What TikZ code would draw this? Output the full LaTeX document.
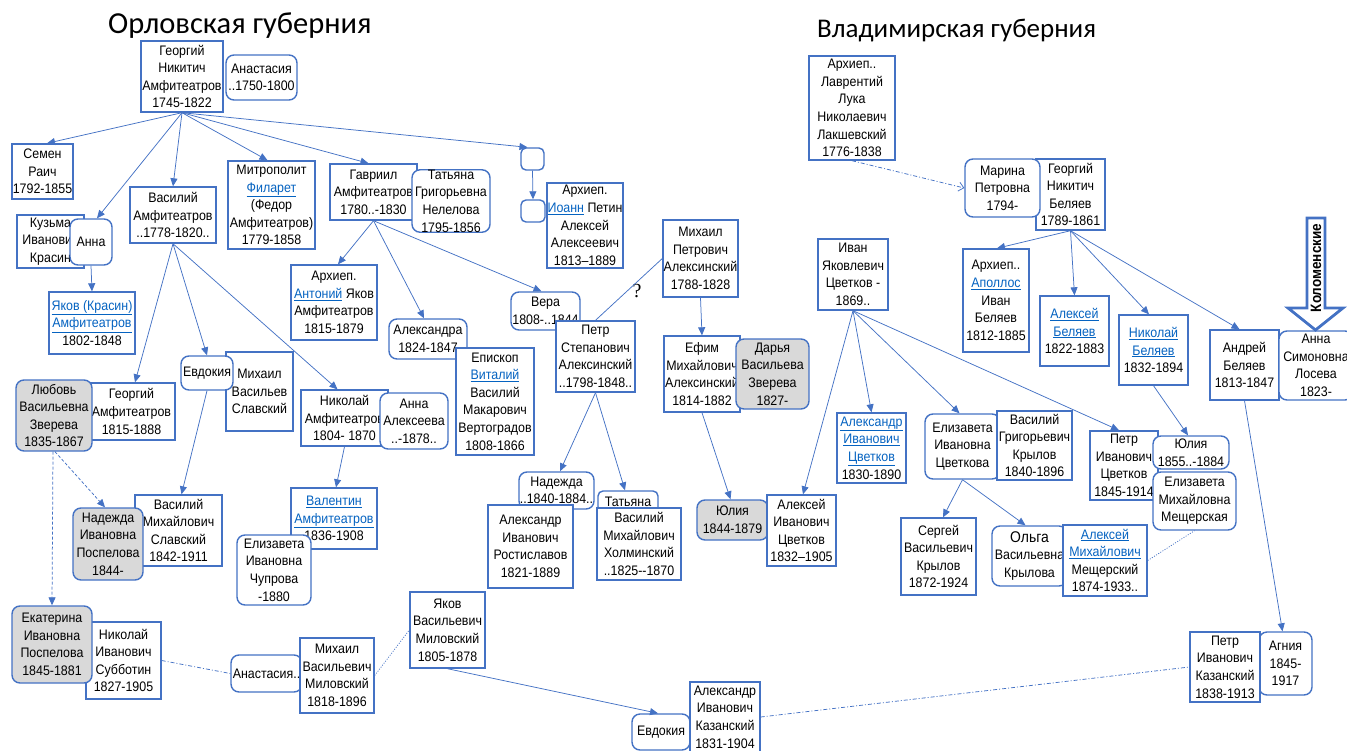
\documentclass[tikz,border=0pt]{standalone}
\usepackage{fontspec}
\setmainfont{Liberation Sans}[FakeStretch=0.9]
\newfontfamily\titlefont{Carlito}
\newfontfamily\qfont{Liberation Serif}
\usetikzlibrary{arrows.meta}
\definecolor{bblue}{RGB}{68,114,196}
\definecolor{lblue}{RGB}{5,99,193}
\definecolor{gfill}{RGB}{217,217,217}
\newcommand\lnk[1]{\textcolor{lblue}{\underline{#1}}}
\newcommand\famnode[7]{\node[#6,minimum width={#4-#2},minimum height={#5-#3}] (#1) at ({(#2+#4)/2},{(#3+#5)/2}) {#7};}
\tikzset{
 pb/.style={draw=bblue,line width=1.4pt,fill=white,inner sep=0pt,align=center,font=\fontsize{13.8}{17.6}\selectfont},
 rb/.style={pb,rounded corners=8pt},
 gb/.style={rb,fill=gfill},
 eb/.style={pb,rounded corners=5pt},
 conn/.style={draw=bblue,line width=0.75pt},
 arr/.style={conn,-{Triangle[length=8pt,width=7pt]}},
 dashline/.style={conn,dash pattern=on 3pt off 2pt},
 ddline/.style={conn,dash pattern=on 4pt off 2pt on 1pt off 2pt},
 dotline/.style={conn,dash pattern=on 1pt off 1.5pt},
}
\begin{document}
\begin{tikzpicture}[x=1pt,y=-1pt]
\useasboundingbox (0,0) rectangle (1347,750);
% titles
\node[font=\titlefont\fontsize{30.5}{32}\selectfont,anchor=base west,inner sep=0pt] (t1) at (108,33) {Орловская губерния};
\node[font=\titlefont\fontsize{27}{30}\selectfont,anchor=base west,inner sep=0pt] (t2) at (817,37) {Владимирская губерния};
% Orel nodes
\famnode{gna}{141}{41}{223}{112}{pb}{Георгий\\Никитич\\Амфитеатров\\1745-1822}
\famnode{anast1}{226}{55}{297}{100}{rb}{Анастасия\\..1750-1800}
\famnode{semen}{12}{144}{73}{199}{pb}{Семен\\Раич\\1792-1855}
\famnode{kuzma}{17}{215}{84}{268}{pb}{Кузьма\\Иванович\\Красин}
\famnode{anna1}{70}{219}{112}{265}{rb}{Анна}
\famnode{yakov}{49}{292}{135}{354}{pb}{\lnk{Яков (Красин)}\\\lnk{Амфитеатров}\\1802-1848}
\famnode{vasA}{130}{187}{216}{243}{pb}{Василий\\Амфитеатров\\..1778-1820..}
\famnode{filaret}{228}{161}{315}{249}{pb}{Митрополит\\\lnk{Филарет}\\(Федор\\Амфитеатров)\\1779-1858}
\famnode{gavr}{330}{164}{417}{220}{pb}{Гавриил\\Амфитеатров\\1780..-1830}
\famnode{tatN}{412}{170}{490}{232}{rb}{Татьяна\\Григорьевна\\Нелелова\\1795-1856}
\famnode{e1}{521}{148}{544}{170}{eb}{}
\famnode{e2}{521}{200}{545}{222}{eb}{}
\famnode{ioann}{547}{183}{623}{268}{pb}{Архиеп.\\\lnk{Иоанн} Петин\\Алексей\\Алексеевич\\1813–1889}
\famnode{mihP}{663}{220}{738}{297}{pb}{Михаил\\Петрович\\Алексинский\\1788-1828}
\famnode{vera}{511}{292}{580}{330}{rb}{Вера\\1808-..1844}
\famnode{petrS}{556}{321}{635}{392}{pb}{Петр\\Степанович\\Алексинский\\..1798-1848..}
\famnode{antoniy}{291}{265}{377}{340}{pb}{Архиеп.\\\lnk{Антоний} Яков\\Амфитеатров\\1815-1879}
\famnode{alexandra}{389}{319}{467}{359}{rb}{Александра\\1824-1847}
\famnode{vitaliy}{456}{348}{534}{455}{pb}{Епископ\\\lnk{Виталий}\\Василий\\Макарович\\Вертоградов\\1808-1866}
\famnode{mihS}{226}{352}{293}{431}{pb}{Михаил\\Васильев\\Славский}
\famnode{evd1}{181}{356}{233}{390}{rb}{Евдокия}
\famnode{georgA}{88}{383}{175}{440}{pb}{Георгий\\Амфитеатров\\1815-1888}
\famnode{lyub}{16}{380}{92}{451}{gb}{Любовь\\Васильевна\\Зверева\\1835-1867}
\famnode{nikA}{301}{390}{388}{446}{pb}{Николай\\Амфитеатров\\1804- 1870}
\famnode{annaA}{380}{393}{448}{449}{rb}{Анна\\Алексеева\\..-1878..}
\famnode{valentin}{291}{488}{377}{549}{pb}{\lnk{Валентин}\\\lnk{Амфитеатров}\\1836-1908}
\famnode{chuprova}{237}{535}{311}{605}{rb}{Елизавета\\Ивановна\\Чупрова\\-1880}
\famnode{vasSl}{135}{495}{222}{566}{pb}{Василий\\Михайлович\\Славский\\1842-1911}
\famnode{nadP}{73}{508}{143}{580}{gb}{Надежда\\Ивановна\\Поспелова\\1844-}
\famnode{subbotin}{86}{622}{161}{699}{pb}{Николай\\Иванович\\Субботин\\1827-1905}
\famnode{ekat}{12}{606}{92}{683}{gb}{Екатерина\\Ивановна\\Поспелова\\1845-1881}
\famnode{anast2}{231}{655}{302}{692}{rb}{Анастасия..}
\famnode{mihM}{300}{638}{374}{713}{pb}{Михаил\\Васильевич\\Миловский\\1818-1896}
\famnode{yakM}{410}{592}{485}{668}{pb}{Яков\\Васильевич\\Миловский\\1805-1878}
\famnode{nadezhda}{519}{472}{594}{509}{rb}{Надежда\\..1840-1884..}
\famnode{tatyana}{598}{491}{658}{512}{eb}{Татьяна}
\famnode{holm}{597}{508}{681}{580}{pb}{Василий\\Михайлович\\Холминский\\..1825-{}-1870}
\famnode{rost}{488}{505}{573}{588}{pb}{Александр\\Иванович\\Ростиславов\\1821-1889}
\famnode{evd2}{632}{714}{690}{750}{rb}{Евдокия}
\famnode{kazA}{690}{682}{760}{752}{pb}{Александр\\Иванович\\Казанский\\1831-1904}
\famnode{efim}{664}{336}{740}{412}{pb}{Ефим\\Михайлович\\Алексинский\\1814-1882}
\famnode{darya}{736}{339}{809}{409}{gb}{Дарья\\Васильева\\Зверева\\1827-}
\famnode{yulia1}{697}{500}{768}{540}{gb}{Юлия\\1844-1879}
\famnode{alexC}{767}{495}{836}{566}{pb}{Алексей\\Иванович\\Цветков\\1832–1905}
% Vladimir nodes
\famnode{ivanC}{818}{239}{888}{310}{pb}{Иван\\Яковлевич\\Цветков -\\1869..}
\famnode{alexanC}{837}{413}{906}{483}{pb}{\lnk{Александр}\\\lnk{Иванович}\\\lnk{Цветков}\\1830-1890}
\famnode{elizC}{925}{414}{1000}{479}{rb}{Елизавета\\Ивановна\\Цветкова}
\famnode{vasK}{997}{411}{1072}{480}{pb}{Василий\\Григорьевич\\Крылов\\1840-1896}
\famnode{lavr}{809}{56}{895}{160}{pb}{Архиеп..\\Лаврентий\\Лука\\Николаевич\\Лакшевский\\1776-1838}
\famnode{georgB}{1036}{159}{1105}{230}{pb}{Георгий\\Никитич\\Беляев\\1789-1861}
\famnode{marina}{965}{159}{1040}{217}{rb}{Марина\\Петровна\\1794-}
\famnode{apollos}{963}{249}{1029}{352}{pb}{Архиеп..\\\lnk{Аполлос}\\Иван\\Беляев\\1812-1885}
\famnode{alexB}{1040}{296}{1109}{366}{pb}{\lnk{Алексей}\\\lnk{Беляев}\\1822-1883}
\famnode{nikB}{1119}{315}{1188}{385}{pb}{\lnk{Николай}\\\lnk{Беляев}\\1832-1894}
\famnode{andrey}{1210}{330}{1279}{400}{pb}{Андрей\\Беляев\\1813-1847}
\famnode{annaL}{1279}{331}{1353}{400}{rb}{Анна\\Симоновна\\Лосева\\1823-}
\famnode{petrC}{1090}{431}{1158}{500}{pb}{Петр\\Иванович\\Цветков\\1845-1914}
\famnode{yulia2}{1153}{436}{1229}{469}{rb}{Юлия\\1855..-1884}
\famnode{elizM}{1153}{472}{1236}{530}{rb}{Елизавета\\Михайловна\\Мещерская}
\famnode{olga}{992}{526}{1067}{586}{rb}{{\fontsize{15.5}{17.6}\selectfont Ольга}\\Васильевна\\Крылова}
\famnode{mesch}{1063}{525}{1147}{596}{pb}{\lnk{Алексей}\\\lnk{Михайлович}\\Мещерский\\1874-1933..}
\famnode{sergey}{901}{518}{976}{595}{pb}{Сергей\\Васильевич\\Крылов\\1872-1924}
\famnode{agniya}{1259}{632}{1312}{695}{rb}{Агния\\1845-\\1917}
\famnode{kazP}{1190}{632}{1260}{702}{pb}{Петр\\Иванович\\Казанский\\1838-1913}
% Kolomenskie block arrow
\draw[draw=bblue,line width=2.8pt,fill=white,line join=miter] (1307,218) -- (1325,218) -- (1325,308) -- (1343,308) -- (1315.5,330) -- (1288,308) -- (1307,308) -- cycle;
\node[rotate=90,inner sep=0pt,font=\bfseries\fontsize{15}{15}\selectfont] (kol) at (1316,268) {Коломенские};
% question mark
\node[inner sep=0pt,font=\qfont\fontsize{20}{20}\selectfont] (q) at (637,291) {?};
% connectors
\draw[arr] (gna.south) -- ([xshift=4.5]semen.north);
\draw[arr] (gna.south) -- ([xshift=6]anna1.north);
\draw[arr] (gna.south) -- (vasA.north);
\draw[arr] (gna.south) -- ([xshift=-4]filaret.north);
\draw[arr] (gna.south) -- ([xshift=-5]gavr.north);
\draw[arr] (gna.south) -- ([xshift=-5]e1.north);
\draw[arr] (e1.south) -- (e2.north);
\draw[arr] (anna1.south) -- (yakov.north);
\draw[arr] (vasA.south) -- ([xshift=3.5]georgA.north);
\draw[arr] (vasA.south) -- (evd1.north);
\draw[arr] (vasA.south) -- ([xshift=-7]nikA.north);
\draw[arr] (gavr.south) -- ([xshift=4]antoniy.north);
\draw[arr] (gavr.south) -- ([xshift=-4]alexandra.north);
\draw[arr] (gavr.south) -- ([xshift=-4]vera.north);
\draw[arr] (evd1.south) -- ([xshift=3]vasSl.north);
\draw[arr] (nikA.south) -- ([xshift=2]valentin.north);
\draw[arr,dashline] ([xshift=-1]lyub.south) -- (ekat.north);
\draw[arr,dashline] ([xshift=1]lyub.south) -- ([xshift=-3]nadP.north);
\draw[arr] (petrS.south) -- ([xshift=3.5]nadezhda.north);
\draw[arr] (petrS.south) -- ([xshift=-3]tatyana.north);
\draw[arr] (mihP.south) -- (efim.north);
\draw[conn] (mihP.west) -- (petrS.north);
\draw[arr] (efim.south) -- ([xshift=-2]yulia1.north);
\draw[arr] (ivanC.south) -- ([xshift=1.5]alexC.north);
\draw[arr] (ivanC.south) -- (alexanC.north);
\draw[arr] (ivanC.south) -- ([xshift=-3]elizC.north);
\draw[arr] (ivanC.south) -- ([xshift=-5]petrC.north);
\draw[arr] (elizC.south) -- ([xshift=4.5]sergey.north);
\draw[arr] (elizC.south) -- ([xshift=-4]olga.north);
\draw[arr] (georgB.south) -- ([xshift=1]apollos.north);
\draw[arr] (georgB.south) -- (alexB.north);
\draw[arr] (georgB.south) -- ([xshift=-4.5]nikB.north);
\draw[arr] (georgB.south) -- ([xshift=-5]andrey.north);
\draw[arr] (nikB.south) -- ([xshift=-3]yulia2.north);
\draw[arr] (andrey.south) -- ([xshift=-3]agniya.north);
\draw[ddline,-{Straight Barb[length=5pt,width=9pt]}] (lavr.south) -- (marina.west);
\draw[ddline] (subbotin.east) -- (anast2.west);
\draw[dotline] (mihM.east) -- (yakM.west);
\draw[arr] (yakM.south) -- ([xshift=-3]evd2.north);
\draw[ddline] (kazA.east) -- (kazP.west);
\draw[dotline] (mesch.east) -- (elizM.south);
\end{tikzpicture}
\end{document}
